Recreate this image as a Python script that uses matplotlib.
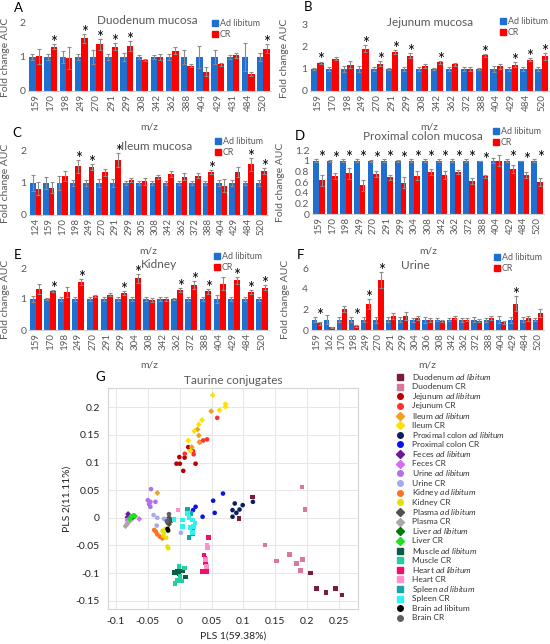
import matplotlib
matplotlib.use('Agg')
import matplotlib.pyplot as plt
import numpy as np

plt.rcParams['font.family'] = ['Lato', 'DejaVu Sans']
plt.rcParams['mathtext.fontset'] = 'custom'
plt.rcParams['mathtext.it'] = 'Lato:italic'
plt.rcParams['mathtext.rm'] = 'Lato'

W, H = 550, 644
BLUE = '#1f6fd0'
RED = '#ff0000'
GRAY = '#595959'
ERR = '#8c8c8c'

# ---------------- Bar chart data ----------------
A_CATS = [159, 170, 198, 249, 270, 291, 299, 308, 342, 362, 388, 404, 429, 431, 484, 520]
A_AL = [1] * 16
A_AL_ERR = [0.1, 0.08, 0.17, 0.1, 0.2, 0.08, 0.13, 0.05, 0.07, 0.1, 0.22, 0.32, 0.2, 0.05, 0.42, 0.12]
A_CR = [1.02, 1.3, 0.98, 1.55, 1.37, 1.3, 1.33, 0.92, 1.0, 1.18, 0.75, 0.57, 0.78, 1.05, 0.5, 1.25]
A_CR_ERR = [0.22, 0.07, 0.32, 0.13, 0.17, 0.1, 0.15, 0.03, 0.08, 0.1, 0.05, 0.13, 0.05, 0.08, 0.05, 0.12]
A_SIG = [170, 249, 270, 291, 299, 520]

B_CATS = [159, 170, 198, 249, 270, 291, 299, 308, 342, 362, 372, 388, 404, 429, 484, 520]
B_AL = [1] * 16
B_AL_ERR = [0.05, 0.07, 0.15, 0.13, 0.08, 0.05, 0.1, 0.07, 0.05, 0.07, 0.08, 0.05, 0.12, 0.07, 0.07, 0.1]
B_CR = [1.29, 1.46, 1.2, 1.93, 1.25, 1.78, 1.61, 1.15, 1.3, 1.22, 1.0, 1.62, 1.12, 1.2, 1.42, 1.57]
B_CR_ERR = [0.05, 0.07, 0.15, 0.15, 0.12, 0.08, 0.13, 0.1, 0.05, 0.07, 0.08, 0.07, 0.12, 0.1, 0.07, 0.15]
B_SIG = [159, 249, 270, 291, 299, 342, 388, 429, 484, 520]

C_CATS = [124, 159, 170, 198, 249, 270, 291, 299, 305, 308, 342, 362, 372, 388, 404, 429, 484, 520]
C_AL = [1] * 18
C_AL_ERR = [0.25, 0.2, 0.22, 0.1, 0.1, 0.12, 0.13, 0.07, 0.05, 0.05, 0.07, 0.07, 0.05, 0.07, 0.1, 0.08, 0.07, 0.1]
C_CR = [0.82, 0.85, 1.22, 1.52, 1.5, 1.33, 1.73, 1.1, 1.05, 1.18, 1.28, 1.2, 1.23, 1.35, 0.92, 1.35, 1.58, 1.38]
C_CR_ERR = [0.2, 0.17, 0.17, 0.2, 0.08, 0.1, 0.22, 0.07, 0.1, 0.07, 0.08, 0.1, 0.08, 0.07, 0.2, 0.15, 0.2, 0.1]
C_SIG = [198, 249, 291, 388, 484, 520]

D_CATS = [159, 170, 198, 249, 270, 291, 299, 304, 308, 342, 362, 372, 388, 404, 429, 484, 520]
D_AL = [1] * 17
D_AL_ERR = [0.03, 0.02, 0.03, 0.03, 0.02, 0.03, 0.02, 0.03, 0.03, 0.03, 0.03, 0.03, 0.0, 0.05, 0.03, 0.0, 0.03]
D_CR = [0.63, 0.71, 0.76, 0.54, 0.75, 0.69, 0.59, 0.72, 0.79, 0.73, 0.79, 0.62, 0.71, 1.0, 0.84, 0.73, 0.6]
D_CR_ERR = [0.1, 0.06, 0.1, 0.1, 0.05, 0.05, 0.11, 0.08, 0.06, 0.07, 0.04, 0.06, 0.03, 0.1, 0.08, 0.05, 0.08]
D_SIG = [159, 170, 198, 249, 270, 291, 299, 304, 308, 342, 362, 372, 388, 429, 484, 520]

E_CATS = [159, 170, 198, 249, 270, 291, 299, 304, 308, 342, 362, 372, 388, 404, 429, 484, 520]
E_AL = [1] * 17
E_AL_ERR = [0.1, 0.03, 0.07, 0.07, 0.07, 0.05, 0.05, 0.07, 0.08, 0.07, 0.03, 0.05, 0.07, 0.13, 0.05, 0.07, 0.08]
E_CR = [1.33, 1.25, 1.22, 1.55, 1.1, 1.14, 1.2, 1.67, 0.96, 1.0, 1.28, 1.45, 1.25, 1.5, 1.6, 1.23, 1.37]
E_CR_ERR = [0.17, 0.04, 0.17, 0.1, 0.04, 0.05, 0.06, 0.15, 0.07, 0.07, 0.06, 0.12, 0.08, 0.2, 0.12, 0.07, 0.08]
E_SIG = [170, 249, 299, 304, 362, 372, 388, 429, 484, 520]

F_CATS = [159, 162, 170, 198, 249, 270, 291, 299, 304, 306, 308, 342, 362, 372, 388, 404, 429, 484, 520]
F_AL = [1] * 19
F_AL_ERR = [0.25, 0.45, 0.25, 0.25, 0.25, 0.3, 0.25, 0.25, 0.2, 0.3, 0.15, 0.15, 0.2, 0.25, 0.2, 0.35, 0.3, 0.25, 0.15]
F_CR = [0.65, 0.25, 2.05, 0.4, 2.5, 4.85, 1.35, 1.35, 1.15, 1.0, 0.9, 1.2, 1.0, 0.9, 1.2, 0.75, 2.55, 1.15, 1.65]
F_CR_ERR = [0.15, 0.05, 0.3, 0.1, 0.5, 0.8, 0.25, 0.35, 0.2, 0.2, 0.1, 0.15, 0.15, 0.15, 0.2, 0.15, 0.7, 0.25, 0.35]
F_SIG = [159, 198, 249, 270, 429]

# ---------------- PLS scatter data (PLS1, PLS2) ----------------
DUODENUM_AL = [(0.114, 0.038), (0.093, -0.001), (0.205, -0.10), (0.215, -0.128), (0.23, -0.135), (0.255, -0.14), (0.245, -0.128)]
DUODENUM_CR = [(0.192, 0.056), (0.197, 0.015), (0.134, -0.049), (0.152, -0.078), (0.172, -0.066), (0.183, -0.083), (0.193, -0.075), (0.19, -0.095)]
JEJUNUM_AL = [(-0.005, 0.098), (0.0003, 0.098), (0.0057, 0.085), (-0.0005, 0.110), (0.0078, 0.109), (0.025, 0.098), (0.0135, 0.128)]
JEJUNUM_CR = [(0.059, 0.181), (0.043, 0.142), (0.037, 0.140), (0.0315, 0.137), (0.021, 0.121), (0.022, 0.115), (0.008, 0.116)]
ILEUM_AL = [(0.0495, 0.193), (0.028, 0.160), (0.030, 0.149), (0.019, 0.128), (0.031, 0.137), (-0.035, 0.045)]
ILEUM_CR = [(0.052, 0.222), (0.072, 0.206), (0.072, 0.201), (0.0625, 0.195), (0.035, 0.177), (0.030, 0.169), (0.023, 0.157), (0.0135, 0.140), (0.017, 0.121)]
PCOLON_AL = [(0.0865, 0.026), (0.099, 0.023), (0.094, 0.015), (0.083, 0.014), (0.089, 0.009), (0.083, 0.002), (0.115, 0.029)]
PCOLON_CR = [(0.068, 0.044), (0.0526, 0.031), (0.055, 0.009), (0.036, 0.002), (0.025, 0.020), (0.021, 0.014)]
FECES_AL = [(-0.081, 0.007), (-0.082, 0.001)]
FECES_CR = [(-0.082, -0.004), (-0.081, -0.008), (-0.0635, -0.002), (-0.078, -0.001)]
URINE_AL = [(-0.045, 0.052), (-0.05, 0.032), (-0.046, 0.029), (-0.048, 0.025), (-0.046, 0.02), (-0.038, 0.029)]
URINE_CR = [(-0.041, 0.005), (-0.035, 0.0), (-0.036, -0.014), (-0.0245, -0.002), (0.002, -0.027)]
KIDNEY_AL = [(-0.040, -0.022), (-0.0375, -0.025), (-0.035, -0.030), (-0.031, -0.034), (-0.027, -0.037)]
KIDNEY_CR = [(-0.027, -0.0235), (-0.0245, -0.0265), (-0.022, -0.020), (-0.0255, -0.0325), (-0.021, -0.036), (-0.019, -0.052), (-0.018, -0.055)]
PLASMA_AL = [(-0.0167, 0.0005), (-0.014, -0.0055), (-0.019, -0.0085), (-0.0115, -0.004), (-0.0167, -0.0115)]
PLASMA_CR = [(-0.085, -0.015), (-0.083, -0.012), (-0.081, -0.009), (-0.079, -0.006), (-0.077, -0.004), (-0.075, -0.002)]
LIVER_AL = [(-0.074, 0.001), (-0.071, 0.003)]
LIVER_CR = [(-0.076, 0.002), (-0.073, 0.004), (-0.070, 0.003), (-0.078, -0.002)]
MUSCLE_AL = [(-0.0078, -0.099), (-0.0036, -0.097), (-0.001, -0.1007), (0.004, -0.096), (0.0094, -0.107)]
MUSCLE_CR = [(-0.001, -0.0886), (0.0078, -0.091), (0.0005, -0.106), (0.003, -0.114), (-0.0073, -0.119), (-0.0036, -0.113)]
HEART_AL = [(0.045, -0.0356), (0.038, -0.067), (0.0396, -0.073), (0.0406, -0.081), (0.036, -0.097), (0.042, -0.097)]
HEART_CR = [(0.043, -0.049), (0.044, -0.054), (0.0406, -0.075), (0.042, -0.088), (-0.0027, 0.0145)]
SPLEEN_AL = [(0.012, 0.0157), (0.018, 0.008), (0.0198, -0.0295), (0.0146, -0.0356), (0.021, -0.025)]
SPLEEN_CR = [(-0.009, -0.0025), (0.004, -0.0036), (0.012, 0.008), (0.0146, 0.0005), (0.0198, -0.004), (0.016, -0.0175), (0.0214, -0.016), (0.024, -0.009), (0.0198, -0.027), (0.004, -0.016)]
BRAIN_AL = [(-0.019, -0.020), (-0.018, -0.023)]
BRAIN_CR = [(-0.02, -0.006), (-0.0167, 0.0067)]

AL = r'$\it{ad\ libitum}$'
GROUPS = [
    ('Duodenum ' + AL, DUODENUM_AL, '#7b1c3d', 's'),
    ('Duodenum CR', DUODENUM_CR, '#d9779e', 's'),
    ('Jejunum ' + AL, JEJUNUM_AL, '#b80000', 'o'),
    ('Jejunum CR', JEJUNUM_CR, '#ff3030', 'o'),
    ('Ileum ' + AL, ILEUM_AL, '#f0a020', 'D'),
    ('Ileum CR', ILEUM_CR, '#ffe100', 'D'),
    ('Proximal colon ' + AL, PCOLON_AL, '#0a1f5c', 'o'),
    ('Proximal colon CR', PCOLON_CR, '#0a14e6', 'o'),
    ('Feces ' + AL, FECES_AL, '#6a1b9a', 'D'),
    ('Feces CR', FECES_CR, '#d070f0', 'D'),
    ('Urine ' + AL, URINE_AL, '#b070e8', 'o'),
    ('Urine CR', URINE_CR, '#a8a8f0', 'o'),
    ('Kidney ' + AL, KIDNEY_AL, '#ff7020', 'o'),
    ('Kidney CR', KIDNEY_CR, '#e8e000', 'o'),
    ('Plasma ' + AL, PLASMA_AL, '#505050', 'D'),
    ('Plasma CR', PLASMA_CR, '#a8a8a8', 'D'),
    ('Liver ' + AL, LIVER_AL, '#007a00', 'D'),
    ('Liver CR', LIVER_CR, '#20e020', 'D'),
    ('Muscle ' + AL, MUSCLE_AL, '#0b5e45', 's'),
    ('Muscle CR', MUSCLE_CR, '#20d0a0', 's'),
    ('Heart ' + AL, HEART_AL, '#f0106a', 's'),
    ('Heart CR', HEART_CR, '#ff90cc', 's'),
    ('Spleen ' + AL, SPLEEN_AL, '#10a8a8', 's'),
    ('Spleen CR', SPLEEN_CR, '#30f0f0', 's'),
    ('Brain ad libitum', BRAIN_AL, '#000000', 'o'),
    ('Brain CR', BRAIN_CR, '#606060', 'o'),
]

fig = plt.figure(figsize=(5.5, 6.44), dpi=100)


def rect(l, t, r, b):
    return [l / W, 1 - b / H, (r - l) / W, (b - t) / H]


overlay = fig.add_axes([0, 0, 1, 1], zorder=10)
overlay.set_xlim(0, W)
overlay.set_ylim(H, 0)
overlay.axis('off')
overlay.patch.set_visible(False)


def bar_panel(box, cats, al, al_err, cr, cr_err, sig, ymax, yticks, yticklabels,
              title, title_xy, leg_xy, letter, letter_xy, mz_y, ylab_px):
    l, t, r, b = box
    ax = fig.add_axes(rect(l, t, r, b))
    x = np.arange(len(cats))
    w = 0.42
    ekw = dict(ecolor=ERR, elinewidth=0.8, capsize=1.6, capthick=0.8)
    ax.bar(x - w / 2, al, w, color=BLUE, yerr=al_err, error_kw=ekw, zorder=2)
    ax.bar(x + w / 2, cr, w, color=RED, yerr=cr_err, error_kw=ekw, zorder=2)
    for i, c in enumerate(cats):
        if c in sig:
            top = max(al[i] + al_err[i], cr[i] + cr_err[i])
            ax.annotate('*', (x[i] + w / 2, top), xytext=(0, -5), textcoords='offset points',
                        ha='center', va='bottom', fontsize=12, color='black',
                        annotation_clip=False)
    ax.set_xlim(-0.5, len(cats) - 0.5)
    ax.set_ylim(0, ymax)
    ax.set_xticks(x)
    ax.set_xticklabels([str(c) for c in cats], rotation=90, fontsize=7, color=GRAY)
    ax.set_yticks(yticks)
    ax.set_yticklabels(yticklabels, fontsize=7.5, color=GRAY)
    ax.tick_params(length=0, pad=2)
    for s in ['top', 'right', 'left']:
        ax.spines[s].set_visible(False)
    ax.spines['bottom'].set_color('#d0d0d0')
    ax.set_ylabel('Fold change AUC', fontsize=7.5, color=GRAY)
    ax.yaxis.set_label_coords((ylab_px - l) / (r - l), 0.5)
    ax.set_xlabel('m/z', fontsize=7.5, color=GRAY)
    ax.xaxis.set_label_coords(0.5, (b - mz_y) / (b - t))
    ax.patch.set_visible(False)
    overlay.text(title_xy[0], title_xy[1], title, fontsize=8.5, color=GRAY, ha='center', va='center')
    lx, ly = leg_xy
    for k, (lab, col) in enumerate([('Ad libitum', BLUE), ('CR', RED)]):
        overlay.plot([lx], [ly + k * 11], marker='s', ms=4.5, color=col, ls='none')
        overlay.text(lx + 5, ly + k * 11, lab, fontsize=6.4, color=GRAY, va='center', ha='left')
    overlay.text(letter_xy[0], letter_xy[1], letter, fontsize=9.5, color='black', ha='center', va='center')
    return ax


bar_panel((28, 23, 271, 91), A_CATS, A_AL, A_AL_ERR, A_CR, A_CR_ERR, A_SIG, 2, [0, 1, 2], ['0', '1', '2'],
          'Duodenum mucosa', (147, 20), (215, 23), 'A', (18, 8), 123, 10)
bar_panel((310, 25, 549, 91), B_CATS, B_AL, B_AL_ERR, B_CR, B_CR_ERR, B_SIG, 3, [0, 1, 2, 3], ['0', '1', '2', '3'],
          'Jejunum mucosa', (430, 22), (503, 21), 'B', (308, 7), 122, 289)
bar_panel((29, 151, 268, 215), C_CATS, C_AL, C_AL_ERR, C_CR, C_CR_ERR, C_SIG, 2, [0, 1, 2], ['0', '1', '2'],
          'Ileum mucosa', (157, 146), (218, 141), 'C', (17, 133), 247, 10)
bar_panel((312, 150, 544, 214), D_CATS, D_AL, D_AL_ERR, D_CR, D_CR_ERR, D_SIG, 1.2,
          [0, 0.2, 0.4, 0.6, 0.8, 1.0, 1.2], ['0', '0.2', '0.4', '0.6', '0.8', '1', '1.2'],
          'Proximal colon mucosa', (423, 136), (496, 131), 'D', (300, 136), 247, 285)
bar_panel((29, 268, 269, 330), E_CATS, E_AL, E_AL_ERR, E_CR, E_CR_ERR, E_SIG, 2, [0, 1, 2], ['0', '1', '2'],
          'Kidney', (159, 264), (217, 256), 'E', (18, 255), 361, 10)
bar_panel((311, 268, 544, 330), F_CATS, F_AL, F_AL_ERR, F_CR, F_CR_ERR, F_SIG, 6, [0, 2, 4, 6], ['0', '2', '4', '6'],
          'Urine', (415, 265), (497, 257), 'F', (300, 255), 361, 290)

# ---------------- Scatter panel G ----------------
axg = fig.add_axes(rect(108, 388, 358, 609))
for lab, pts, col, mk in GROUPS:
    arr = np.array(pts)
    axg.scatter(arr[:, 0], arr[:, 1], s=11 if mk != 'D' else 9, marker=mk, color=col,
                edgecolors='none', zorder=3)
axg.set_xlim(-0.1125, 0.28)
axg.set_ylim(-0.165, 0.235)
xt = [-0.1, -0.05, 0, 0.05, 0.1, 0.15, 0.2, 0.25]
yt = [-0.15, -0.1, -0.05, 0, 0.05, 0.1, 0.15, 0.2]
axg.set_xticks(xt)
axg.set_xticklabels(['-0.1', '-0.05', '0', '0.05', '0.1', '0.15', '0.2', '0.25'], fontsize=7.5, color='#222222')
axg.set_yticks(yt)
axg.set_yticklabels(['-0.15', '-0.1', '-0.05', '0', '0.05', '0.1', '0.15', '0.2'], fontsize=7.5, color='#222222')
axg.tick_params(length=0, pad=6)
axg.grid(True, color='#e6e6e6', lw=0.7, zorder=0)
for s in axg.spines.values():
    s.set_color('#d4d4d4')
    s.set_linewidth(0.8)
axg.set_xlabel('PLS 1(59.38%)', fontsize=7.5, color='#222222', labelpad=4)
axg.set_ylabel('PLS 2(11.11%)', fontsize=7.5, color='#222222')
axg.yaxis.set_label_coords((72 - 108) / 250, 0.5)
overlay.text(233, 380, 'Taurine conjugates', fontsize=8.5, color=GRAY, ha='center', va='center')
overlay.text(100, 377, 'G', fontsize=9.5, color='black', ha='center', va='center')

# legend of G
for i, (lab, pts, col, mk) in enumerate(GROUPS):
    y = 377 + i * 9.64
    overlay.plot([400], [y], marker=mk, ms=4 if mk != 'D' else 3.6, color=col, ls='none')
    overlay.text(412, y, lab, fontsize=6, color='#333333', va='center', ha='left')

fig.savefig('out.png', dpi=100)
